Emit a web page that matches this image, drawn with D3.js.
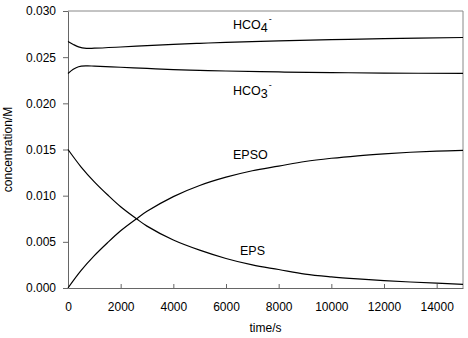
<!DOCTYPE html>
<html><head><meta charset="utf-8">
<script src="https://cdn.jsdelivr.net/npm/d3@7"></script>
<style>
html,body{margin:0;padding:0;background:#fff;}
svg{display:block;font-family:"Liberation Sans",Arial,sans-serif;}
</style></head>
<body><svg id="c" width="468" height="338"></svg>
<script>
// Data
const timeHCO = [0, 200, 400, 700, 1000, 2000, 3000, 4000, 5000, 6000, 8000, 10000, 12000, 15000];
const hco4 = [0.0267, 0.02638, 0.02612, 0.02596, 0.02597, 0.0261, 0.02625, 0.02638, 0.0265, 0.0266, 0.02677, 0.0269, 0.027, 0.02713];
const hco3 = [0.02323, 0.02368, 0.02396, 0.02405, 0.02403, 0.02391, 0.02378, 0.02366, 0.02357, 0.0235, 0.0234, 0.02333, 0.02328, 0.02324];
const timeEP = [0, 500, 1000, 1500, 2000, 2600, 3000, 4000, 5000, 6000, 7000, 8000, 9000, 10000, 11000, 12000, 13000, 14000, 15000];
const eps  = [0.0150, 0.0131, 0.0115, 0.0101, 0.0088, 0.0075, 0.0067, 0.0052, 0.0041, 0.0032, 0.0025, 0.0020, 0.0015, 0.0012, 0.00098, 0.0008, 0.00065, 0.00052, 0.0004];
const epso = [0.0000, 0.0019, 0.0035, 0.0049, 0.0062, 0.0075, 0.0083, 0.0099, 0.0111, 0.0120, 0.0127, 0.0132, 0.0137, 0.01405, 0.01432, 0.01453, 0.0147, 0.01482, 0.0149];
const xTicks = [0, 2000, 4000, 6000, 8000, 10000, 12000, 14000];
const yTicks = [0, 0.005, 0.010, 0.015, 0.020, 0.025, 0.030];
const xTitle = "time/s";
const yTitle = "concentration/M";

const svg = d3.select("#c");
const L = 68, R = 463, T = 11, B = 288;
const x = d3.scaleLinear().domain([0, 15000]).range([L, R]);
const y = d3.scaleLinear().domain([0, 0.030]).range([B, T]);

// frame (top & right)
svg.append("path").attr("d", `M${L},${T}H${R}V${B}`).attr("fill","none").attr("stroke","#888").attr("stroke-width",1);

// x axis: ticks inward
const gx = svg.append("g").attr("transform", `translate(0,${B})`)
  .call(d3.axisBottom(x).tickValues(xTicks).tickSizeInner(-4).tickSizeOuter(0).tickPadding(14).tickFormat(d3.format("d")));
gx.select(".domain").attr("stroke","#666");
gx.selectAll(".tick line").attr("stroke","#666");
gx.selectAll("text").attr("font-size","12px").attr("fill","#000").attr("font-family","Liberation Sans, Arial, sans-serif");

// y axis: ticks outward
const gy = svg.append("g").attr("transform", `translate(${L},0)`)
  .call(d3.axisLeft(y).tickValues(yTicks).tickSizeInner(5).tickSizeOuter(0).tickPadding(7).tickFormat(d3.format(".3f")));
gy.select(".domain").attr("stroke","#666");
gy.selectAll(".tick line").attr("stroke","#666");
gy.selectAll("text").attr("font-size","12px").attr("fill","#000").attr("font-family","Liberation Sans, Arial, sans-serif");

// lines
const line = (ts, vs) => d3.line().x((d,i)=>x(ts[i])).y(d=>y(d)).curve(d3.curveCatmullRom.alpha(0.5))(vs);
[[timeHCO,hco4],[timeHCO,hco3],[timeEP,eps],[timeEP,epso]].forEach(([ts,vs])=>{
  svg.append("path").attr("d", line(ts,vs)).attr("fill","none").attr("stroke","#000").attr("stroke-width",1.2);
});

// curve labels
function label(xp, yp, main, sub, sup){
  const t = svg.append("text").attr("x", xp).attr("y", yp).attr("font-size","12.5px").attr("fill","#000");
  t.append("tspan").text(main);
  if (sub) t.append("tspan").attr("dy", 3).text(sub);
  if (sup) t.append("tspan").attr("dy", -10).attr("dx", 1).attr("font-size","9px").text(sup);
}
label(233, 29, "HCO", "4", "-");
label(233, 95, "HCO", "3", "-");
label(233, 159, "EPSO");
label(240, 255, "EPS");

// axis titles
svg.append("text").attr("x", (L+R)/2).attr("y", 332).attr("text-anchor","middle").attr("font-size","12px").text(xTitle);
svg.append("text").attr("transform", `translate(12,${(T+B)/2}) rotate(-90)`).attr("text-anchor","middle").attr("font-size","12px").text(yTitle);
</script></body></html>
